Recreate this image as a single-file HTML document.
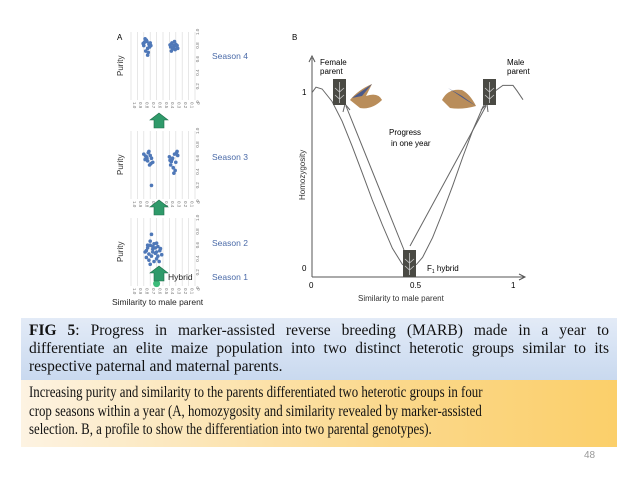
<!DOCTYPE html>
<html><head><meta charset="utf-8"><style>
body{margin:0;width:638px;height:479px;background:#fff;position:relative;overflow:hidden;font-family:"Liberation Sans",sans-serif}
#fig{position:absolute;left:0;top:0}
.box{position:absolute;left:21px;width:580px;padding:0 8px;font-family:"Liberation Serif",serif;color:#111}
#cap1{top:318px;height:58px;background:linear-gradient(#e3ebf7,#c9d9ef);font-size:15.5px;line-height:18px;padding-top:4px}
#cap1 .j{text-align:justify;text-align-last:justify;white-space:nowrap}
#cap2{top:380px;height:63px;background:linear-gradient(90deg,#fdf3e2,#fbd98e 60%,#fbcf6a);font-size:15.5px;line-height:18.5px;padding-top:4px}
#cap2 div{white-space:nowrap;transform:scaleX(0.83);transform-origin:0 0}
#pg{position:absolute;left:584px;top:450px;font-size:10px;color:#999}
</style></head><body>
<svg id="fig" width="638" height="318" font-family="Liberation Sans, sans-serif">
<g id="panelA"></g>
<g id="panelB">
<text x="292" y="40" font-size="8">B</text>
<line x1="312" y1="277" x2="312" y2="58" stroke="#555" stroke-width="1"/>
<path d="M309,62 L312,56 L315,62" fill="none" stroke="#555"/>
<line x1="312" y1="277" x2="524" y2="277" stroke="#555"/>
<path d="M519,274 L525,277 L519,280" fill="none" stroke="#555"/>
<text x="302" y="95" font-size="8">1</text>
<text x="302" y="271" font-size="8">0</text>
<text x="309" y="288" font-size="8">0</text>
<text x="410" y="288" font-size="8">0.5</text>
<text x="511" y="288" font-size="8">1</text>
<text x="358" y="301" font-size="8" fill="#333">Similarity to male parent</text>
<text transform="translate(305,200) rotate(-90)" font-size="8" fill="#333">Homozygosity</text>
<path id="curve" fill="none" stroke="#666" stroke-width="1"/>
<line x1="404" y1="250" x2="346" y2="106" stroke="#666"/>
<path d="M343,112 L345,104 L350,110" fill="none" stroke="#666"/>
<line x1="410" y1="246" x2="486" y2="106" stroke="#666"/>
<path d="M481,110 L487,104 L488,112" fill="none" stroke="#666"/>
<g><rect x="333" y="79" width="13" height="26" fill="#4a4a44"/><path d="M339.5,82 V103 M335,88 L339.5,92 L344,88 M335,95 L339.5,99 L344,95" stroke="#ccc" stroke-width="0.8" fill="none"/></g>
<g><rect x="483" y="79" width="13" height="26" fill="#4a4a44"/><path d="M489.5,82 V103 M485,88 L489.5,92 L494,88 M485,95 L489.5,99 L494,95" stroke="#ccc" stroke-width="0.8" fill="none"/></g>
<g><rect x="403" y="250" width="13" height="27" fill="#4a4a44"/><path d="M409.5,253 V275 M405,259 L409.5,263 L414,259 M405,266 L409.5,270 L414,266" stroke="#ccc" stroke-width="0.8" fill="none"/></g>
<g><path d="M350,100 Q358,90 372,84 L366,96 Q378,92 382,100 Q372,110 360,108 Z" fill="#b98d5a"/><path d="M352,98 L362,96 L372,84 Z" fill="#4b5a8a"/></g>
<g><path d="M442,100 Q448,88 462,90 Q470,94 476,106 Q462,110 450,108 Z" fill="#b98d5a"/><path d="M448,88 L466,100 L476,106 L462,96 Z" fill="#4b5a8a"/></g>
<text x="320" y="65" font-size="8"><tspan x="320">Female</tspan><tspan x="320" dy="9">parent</tspan></text>
<text x="507" y="65" font-size="8"><tspan x="507">Male</tspan><tspan x="507" dy="9">parent</tspan></text>
<text x="389" y="135" font-size="8"><tspan x="389">Progress</tspan><tspan x="391" dy="11">in one year</tspan></text>
<text x="427" y="271" font-size="8">F<tspan font-size="5" dy="2">1</tspan><tspan dy="-2"> hybrid</tspan></text>
</g>
</svg>
<div id="cap1" class="box"><div class="j"><b>FIG 5</b>: Progress in marker-assisted reverse breeding (MARB) made in a year to</div><div class="j">differentiate an elite maize population into two distinct heterotic groups similar to its</div><div>respective paternal and maternal parents.</div></div>
<div id="cap2" class="box"><div>Increasing purity and similarity to the parents differentiated two heterotic groups in four</div><div>crop seasons within a year (A, homozygosity and similarity revealed by marker-assisted</div><div>selection. B, a profile to show the differentiation into two parental genotypes).</div></div>
<div id="pg">48</div>
<script>
// Panel B curve data: [similarity, homozygosity]
const curveX=[0,0.02,0.05,0.1,0.15,0.2,0.25,0.3,0.35,0.4,0.45,0.48,0.52,0.55,0.6,0.65,0.7,0.75,0.8,0.85,0.9,0.95,1.0,1.02,1.05];
const curveY=[0.98,1.01,1.0,0.93,0.82,0.68,0.53,0.38,0.24,0.11,0.02,0.0,0.02,0.06,0.17,0.31,0.46,0.62,0.77,0.9,0.98,1.02,1.02,0.99,0.94];
const bx=v=>312+v*201, by=v=>268-v*179;
document.getElementById('curve').setAttribute('d',curveX.map((x,i)=>(i?'L':'M')+bx(x).toFixed(1)+','+by(curveY[i]).toFixed(1)).join(' '));

// Panel A scatter data: [similarity to male parent, purity]
const season4Sim=[0.78,0.75,0.72,0.8,0.74,0.7,0.77,0.73,0.76,0.71,0.79,0.74,0.69,0.81,0.36,0.33,0.3,0.38,0.35,0.28,0.32,0.37,0.34,0.31,0.29,0.36,0.27,0.39];
const season4Pur=[0.9,0.86,0.82,0.8,0.76,0.84,0.72,0.7,0.88,0.78,0.85,0.66,0.8,0.83,0.84,0.8,0.82,0.78,0.75,0.8,0.86,0.72,0.77,0.74,0.79,0.83,0.76,0.81];
const season3Sim=[0.8,0.76,0.72,0.68,0.74,0.7,0.78,0.66,0.73,0.69,0.75,0.71,0.77,0.68,0.4,0.36,0.32,0.28,0.38,0.34,0.3,0.35,0.31,0.27,0.37,0.33,0.29,0.39];
const season3Pur=[0.66,0.62,0.7,0.6,0.56,0.64,0.58,0.54,0.68,0.52,0.6,0.5,0.63,0.2,0.62,0.58,0.66,0.7,0.5,0.46,0.54,0.6,0.42,0.64,0.55,0.38,0.68,0.57];
const season2Sim=[0.78,0.74,0.7,0.66,0.62,0.58,0.55,0.52,0.76,0.72,0.68,0.64,0.6,0.56,0.7,0.66,0.62,0.58,0.74,0.7,0.64,0.6,0.68,0.54,0.72,0.66,0.6,0.76];
const season2Pur=[0.5,0.56,0.6,0.54,0.48,0.58,0.52,0.46,0.42,0.38,0.44,0.62,0.4,0.36,0.66,0.5,0.56,0.44,0.6,0.32,0.36,0.5,0.76,0.55,0.47,0.58,0.63,0.52];
const hybridSim=[0.6], hybridPur=[0.02];
const xTicks=['1.0','0.9','0.8','0.7','0.6','0.5','0.4','0.3','0.2','0.1','0'];
const yTicks=['0','0.2','0.4','0.6','0.8','1.0'];
const ns='http://www.w3.org/2000/svg', A=document.getElementById('panelA');
function mk(t,at,p){const e=document.createElementNS(ns,t);for(const k in at)e.setAttribute(k,at[k]);(p||A).appendChild(e);return e;}
const t0=mk('text',{x:117,y:40,'font-size':8});t0.textContent='A';


function chart(top,sims,purs,label,ly,name){
  const g=mk('g',{});
  
  
  const L=131,R=195,T=top,Bt=top+68;
  const sx=v=>R-v*(R-L), sy=v=>Bt-v*(Bt-T);
  xTicks.forEach((t,i)=>{const x=L+i*(R-L)/10;mk('line',{x1:x,y1:T,x2:x,y2:Bt,stroke:'#ddd','stroke-width':0.7},g);
    const tx=mk('text',{transform:`translate(${x+1.8},${Bt+2}) rotate(90)`,'font-size':4.5,fill:'#777'},g);tx.textContent=t;});
  yTicks.forEach((t,i)=>{const tx=mk('text',{transform:`translate(${R+4},${sy(i/5)+3}) rotate(-90)`,'font-size':4.5,fill:'#777'},g);tx.textContent=t;});
  const pl=mk('text',{transform:`translate(123,${T+44}) rotate(-90)`,'font-size':8,fill:'#333'},g);pl.textContent='Purity';
  
  
  sims.forEach((s,i)=>{const c=mk('circle',{cx:sx(s),cy:sy(purs[i]),r:1.8,fill:'#4f78b8'},g);
    
    });
  const sl=mk('text',{x:212,y:ly,'font-size':8.5,fill:'#4a6aa8'},g);sl.textContent=label;
  
  
  return {sx,sy,g};
}
chart(32,season4Sim,season4Pur,'Season 4',59,'season-4-chart');
chart(131,season3Sim,season3Pur,'Season 3',160,'season-3-chart');
const c3=chart(218,season2Sim,season2Pur,'Season 2',246,'season-2-chart');
const hd=mk('circle',{cx:c3.sx(hybridSim[0]),cy:c3.sy(hybridPur[0])-1,r:3.5,fill:'#3dbb7a'});


const s1=mk('text',{x:212,y:280,'font-size':8.5,fill:'#4a6aa8'});s1.textContent='Season 1';


const hl=mk('text',{x:168,y:280,'font-size':8.5,fill:'#222'});hl.textContent='Hybrid';


[[113],[200],[266]].forEach(([y])=>{const a=mk('path',{d:`M154,${y+15} V${y+7} H150 L159,${y} L168,${y+7} H164 V${y+15} Z`,fill:'#2f9a6a',stroke:'#1e6e4a','stroke-width':0.6});
  
  });
const xt=mk('text',{x:112,y:305,'font-size':8.5,fill:'#222'});xt.textContent='Similarity to male parent';


</script>
</body></html>
